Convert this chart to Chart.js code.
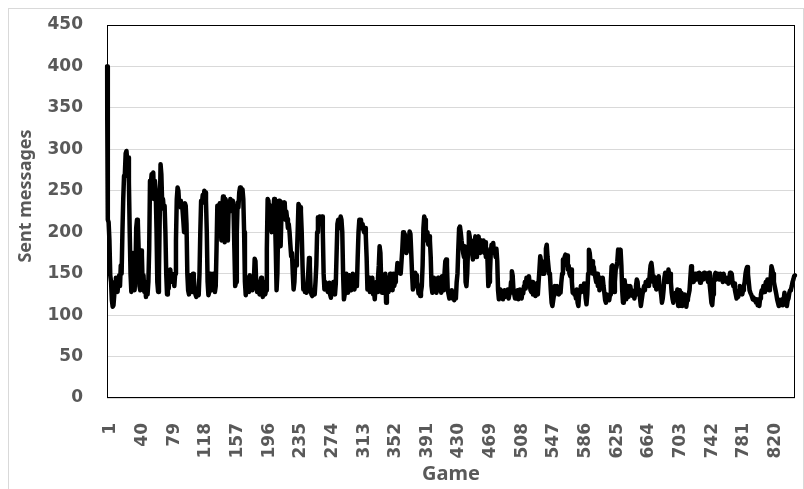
<!DOCTYPE html>
<html>
<head>
<meta charset="utf-8">
<script src="https://cdn.jsdelivr.net/npm/chart.js@4.4.0/dist/chart.umd.min.js"></script>
<style>
  html, body { margin: 0; padding: 0; background: #fff; }
  #frame { position: absolute; left: 8px; top: 8px; width: 796px; height: 490px; border: 1px solid #d9d9d9; box-sizing: border-box; }
  #wrap { position: absolute; left: 0; top: 0; width: 804px; height: 489px; }
</style>
</head>
<body>
<div id="frame"></div>
<div id="wrap"><canvas id="lineChart" width="804" height="489"></canvas></div>
<script>
// messages sent per game
const sentMessages = [
  400,215,212,190,148,140,118,110,112,125,140,145,132,128,140,148,135,160,150,200,
  240,268,270,295,298,285,290,260,200,150,128,140,175,165,130,150,205,215,212,180,
  135,130,178,172,135,148,128,140,122,130,125,140,180,262,258,270,265,272,240,262,
  252,205,140,128,150,220,282,270,235,240,228,232,200,150,125,135,132,148,155,145,
  150,140,145,135,150,190,240,254,250,232,238,230,235,228,215,200,235,232,210,150,
  130,125,140,148,135,128,150,145,132,125,122,130,128,124,150,200,238,235,245,240,
  250,248,238,200,140,124,128,150,145,130,140,150,148,128,135,180,232,228,200,235,
  210,190,230,243,225,188,240,236,210,190,235,225,240,230,228,238,225,180,135,140,
  200,236,230,248,254,250,245,252,240,200,140,124,135,145,140,128,148,135,140,130,
  145,140,168,165,135,128,140,135,125,140,145,128,122,135,140,125,130,180,240,238,
  220,210,232,200,228,225,240,220,180,130,150,210,238,230,183,220,236,232,228,236,
  215,225,216,205,210,200,185,171,175,150,131,140,165,160,170,200,234,232,230,225,
  200,160,131,135,128,130,127,135,150,169,160,130,125,123,130,128,125,140,160,200,
  218,215,219,218,210,219,200,150,131,140,135,138,128,130,139,125,121,135,132,140,
  130,125,138,175,210,215,205,210,219,215,200,150,119,125,140,150,135,127,140,148,
  135,130,140,150,138,131,145,140,135,170,200,215,212,215,205,210,203,200,205,195,
  170,131,140,145,128,135,140,145,125,130,119,135,140,128,145,160,183,175,140,127,
  130,140,135,150,115,140,145,128,135,150,140,145,130,150,135,140,148,150,163,160,
  155,158,150,165,180,200,190,198,185,175,180,178,190,201,198,175,150,131,135,140,
  151,148,140,135,126,130,123,128,135,160,205,219,215,200,190,200,185,195,190,170,
  135,127,140,145,130,135,127,140,145,130,135,140,127,147,135,130,150,165,167,160,
  130,125,120,127,122,130,120,125,118,127,120,140,150,180,205,207,200,190,183,175,
  170,183,140,135,150,180,200,195,185,190,175,167,180,185,195,170,190,188,195,183,
  175,190,185,178,190,175,188,170,180,165,135,140,150,175,185,178,187,175,178,170,
  180,165,130,119,125,131,122,128,119,126,130,122,128,124,131,120,125,127,140,153,
  148,130,125,120,128,122,130,119,125,131,124,120,128,126,135,140,132,145,140,135,
  147,138,130,128,140,125,135,130,123,138,128,125,140,155,171,165,160,150,158,150,
  165,180,185,170,160,150,148,130,115,111,118,125,135,127,130,135,128,125,130,127,
  140,150,167,160,170,173,165,172,155,160,150,147,155,140,127,130,125,127,120,131,
  115,111,125,130,135,128,135,130,138,132,120,113,125,150,179,175,163,160,165,150,
  158,150,145,140,150,135,142,130,145,140,138,145,135,127,118,115,125,120,123,118,
  125,140,159,160,150,128,140,155,158,165,179,175,170,179,160,130,115,125,142,130,
  119,135,128,122,131,135,128,130,123,127,120,125,135,143,140,125,131,120,111,118,
  125,130,135,130,140,135,140,143,135,150,160,163,155,140,147,135,145,131,140,138,
  147,135,131,125,115,120,130,145,151,147,150,140,155,148,150,140,127,120,115,125,
  118,127,120,131,111,125,130,118,127,111,120,115,125,122,110,118,120,125,130,145,
  159,150,143,140,145,150,143,148,150,145,151,139,148,145,150,143,151,145,148,150,
  143,140,151,135,125,115,112,125,140,148,151,143,150,145,148,143,150,145,148,140,
  150,146,142,143,140,145,138,145,151,148,150,140,135,138,130,125,120,127,122,130,
  135,128,131,125,130,135,140,150,155,158,150,140,130,127,125,122,119,121,118,119,
  115,119,112,118,111,120,125,130,127,135,128,131,140,135,143,138,130,140,145,159,
  155,150,140,135,130,125,119,115,111,118,112,115,119,112,118,127,120,115,111,118,
  120,127,130,131,135,140,143,147,148
];

// game numbers 1..N on the category axis, one label shown every 39 games
const games = sentMessages.map((v, i) => String(i + 1));
const tickEvery = 39;

const yMin = 0;
const yMax = 450;
const yStep = 50;

const textGray = "#595959";
const tickFont = { family: "'DejaVu Sans'", size: 17, weight: "bold" };

// black box round the plot area, like the original
const plotBorder = {
  id: "plotBorder",
  beforeDatasetsDraw(chart) {
    const { ctx, chartArea: a } = chart;
    ctx.save();
    ctx.strokeStyle = "#000";
    ctx.lineWidth = 1;
    ctx.strokeRect(a.left + 0.5, a.top + 0.5, a.right - a.left - 1, a.bottom - a.top - 1);
    ctx.restore();
  },
};

// y title sits a bit above the middle of the axis in the original
const yTitle = {
  id: "yTitle",
  afterDraw(chart) {
    const ctx = chart.ctx;
    ctx.save();
    ctx.translate(26, 196);
    ctx.rotate(-Math.PI / 2);
    ctx.fillStyle = textGray;
    ctx.font = "bold 18px 'Noto Sans'";
    ctx.textAlign = "center";
    ctx.textBaseline = "middle";
    ctx.fillText("Sent messages", 0, 0);
    ctx.restore();
  },
};

const ctx = document.getElementById("lineChart").getContext("2d");

new Chart(ctx, {
  type: "line",
  data: {
    labels: games,
    datasets: [
      {
        label: "Sent messages",
        data: sentMessages,
        borderColor: "#000",
        borderWidth: 4.5,
        borderJoinStyle: "round",
        borderCapStyle: "round",
        pointRadius: 0,
        fill: false,
        tension: 0,
      },
    ],
  },
  options: {
    responsive: false,
    animation: false,
    layout: { padding: { left: 0, top: 25, right: 9, bottom: 0 } },
    plugins: {
      legend: { display: false },
      tooltip: { enabled: false },
    },
    scales: {
      x: {
        grid: { display: false, drawTicks: false },
        border: { display: false },
        ticks: {
          autoSkip: false,
          minRotation: 90,
          maxRotation: 90,
          padding: 25,
          labelOffset: 4,
          color: textGray,
          font: tickFont,
          callback: (value, index) => (index % tickEvery === 0 ? games[index] : null),
        },
        title: {
          display: true,
          text: "Game",
          color: textGray,
          font: { family: "'Noto Sans'", size: 20, weight: "bold" },
          padding: { top: 0, bottom: 3 },
        },
        afterFit: scale => {
          scale.height = 91;
          scale.paddingLeft = 0;
          scale.paddingRight = 0;
        },
      },
      y: {
        min: yMin,
        max: yMax,
        grid: { color: "#d9d9d9", lineWidth: 1, drawTicks: false },
        border: { display: false },
        ticks: {
          stepSize: yStep,
          padding: 24,
          color: textGray,
          font: tickFont,
        },
        afterFit: scale => {
          scale.width = 107;
          scale.paddingTop = 0;
          scale.paddingBottom = 0;
        },
      },
    },
  },
  plugins: [plotBorder, yTitle],
});
</script>
</body>
</html>
